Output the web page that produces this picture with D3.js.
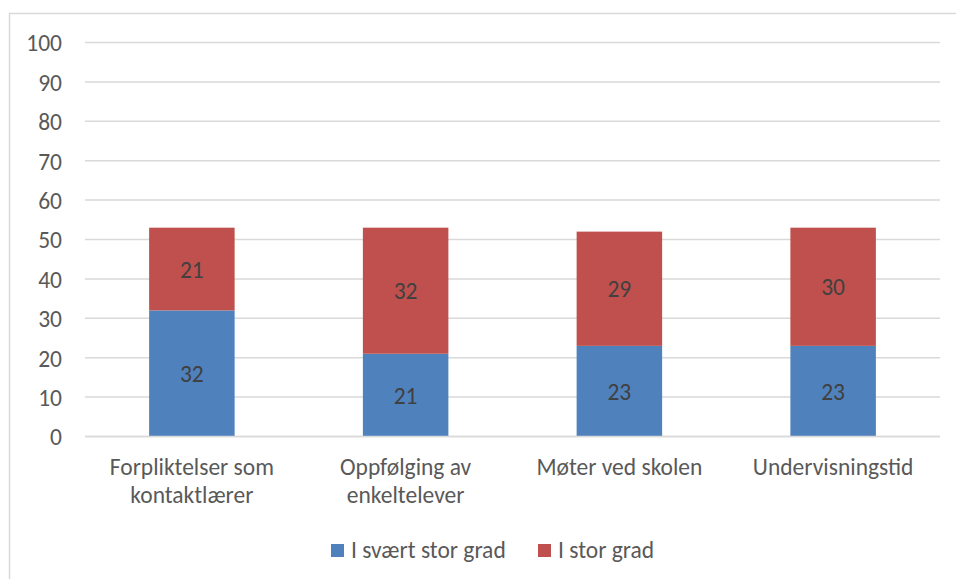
<!DOCTYPE html>
<html><head><meta charset="utf-8">
<script src="https://cdn.jsdelivr.net/npm/d3@7"></script>
<style>body{margin:0;background:#fff}svg{display:block}</style>
</head><body>
<svg id="c" width="956" height="579"></svg>
<script>
const categories = [["Forpliktelser som","kontaktlærer"],["Oppfølging av","enkeltelever"],["Møter ved skolen"],["Undervisningstid"]];
const seriesNames = ["I svært stor grad","I stor grad"];
const svaertStor = [32,21,23,23];
const stor = [21,32,29,30];
const yTicks = [0,10,20,30,40,50,60,70,80,90,100];
const colors = ["#4F81BD","#C0504D"];

const font = "Carlito, Lato, 'Open Sans', sans-serif";
const fs = 23.5;
const svg = d3.select("#c");
svg.append("rect").attr("x",9.5).attr("y",13.5).attr("width",960).attr("height",600)
  .attr("fill","#fff").attr("stroke","#d9d9d9").attr("stroke-width",1.5);

const x = d3.scaleBand().domain(d3.range(categories.length)).range([85,940]).paddingInner(0.6).paddingOuter(0.3);
const y = d3.scaleLinear().domain([0,100]).range([436.5,42.5]);

const g = svg.append("g");
g.selectAll("line.grid").data(yTicks).join("line").attr("class","grid")
  .attr("x1",85).attr("x2",940).attr("y1",d=>y(d)).attr("y2",d=>y(d))
  .attr("stroke","#d9d9d9").attr("stroke-width",1.5);

const yAxis = svg.append("g").attr("transform","translate(62,0)")
  .call(d3.axisLeft(y).tickValues(yTicks).tickSize(0).tickPadding(0));
yAxis.select(".domain").remove();
yAxis.selectAll("text").attr("font-family",font).attr("font-size",fs).attr("fill","#595959").attr("dy","0.36em");

const stack = d3.stack().keys([0,1])(d3.range(categories.length).map(i=>({0:svaertStor[i],1:stor[i]})));
stack.forEach((s,si)=>{
  g.selectAll("rect.s"+si).data(s).join("rect").attr("class","s"+si)
    .attr("x",(d,i)=>x(i)).attr("width",x.bandwidth())
    .attr("y",d=>y(d[1])).attr("height",d=>y(d[0])-y(d[1])).attr("fill",colors[si]);
  g.selectAll("text.l"+si).data(s).join("text").attr("class","l"+si)
    .attr("x",(d,i)=>x(i)+x.bandwidth()/2).attr("y",d=>y((d[0]+d[1])/2))
    .attr("dy","0.36em").attr("text-anchor","middle")
    .attr("font-family",font).attr("font-size",fs).attr("fill","#404040")
    .text(d=>d[1]-d[0]);
});
g.append("line").attr("x1",85).attr("x2",940).attr("y1",y(0)).attr("y2",y(0)).attr("stroke","#d9d9d9").attr("stroke-width",1.5);

const xl = svg.append("g");
categories.forEach((lines,i)=>{
  const t = xl.append("text").attr("x",x(i)+x.bandwidth()/2).attr("y",475)
    .attr("text-anchor","middle").attr("font-family",font).attr("font-size",fs).attr("fill","#595959");
  lines.forEach((ln,j)=>t.append("tspan").attr("x",x(i)+x.bandwidth()/2).attr("y",475+j*28).text(ln));
});

const leg = svg.append("g");
const legX = [331,538];
seriesNames.forEach((n,i)=>{
  leg.append("rect").attr("x",legX[i]).attr("y",544).attr("width",13).attr("height",13).attr("fill",colors[i]);
  leg.append("text").attr("x",legX[i]+20).attr("y",558).attr("font-family",font).attr("font-size",fs).attr("fill","#595959").text(n);
});
</script>
</body></html>
